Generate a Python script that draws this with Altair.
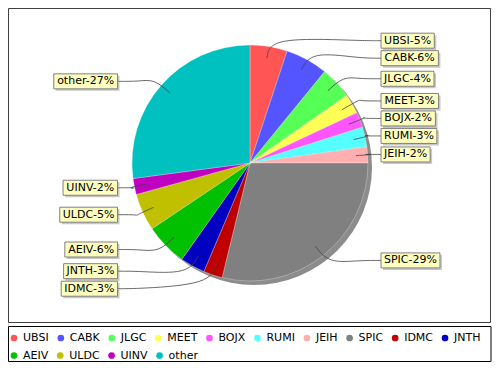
import math
import altair as alt
import pandas as pd

# ---------------- data (shares in %) ----------------
categories = ["UBSI", "CABK", "JLGC", "MEET", "BOJX", "RUMI", "JEIH",
              "SPIC", "IDMC", "JNTH", "AEIV", "ULDC", "UINV", "other"]
shares = [5.1, 5.8, 4.4, 2.7, 2.1, 2.7, 2.2, 28.8, 2.6, 3.4, 5.8, 5.1, 2.2, 27.1]
colors = ["#FF5555", "#5555FF", "#55FF55", "#FFFF55", "#FF55FF", "#55FFFF",
          "#FFAFAF", "#808080", "#C00000", "#0000C0", "#00C000", "#C0C000",
          "#C000C0", "#00C0C0"]

# ---------------- layout ----------------
W, H = 484, 354
CX, CY, R = 242, 155, 118
FONT = "DejaVu Sans"
FS = 11
RIGHT_X = 373      # left edge of right-hand label boxes
LEFT_X = 109.5     # right edge of left-hand label boxes
BOX_H = 15
MIN_GAP = 17.5
LABEL_R = 1.05
ANCHOR_R = 0.9
BORDER = (0.5, 482.5, 0.5, 314.5)
LEG_BOX = (0.5, 483, 318.5, 353.5)
LEG_ROW1 = 330
LEG_ROW_STEP = 17.5
LEG_PER_ROW = 10
LEG_GAP = 8.5

# DejaVu Sans advance widths (em)
ADV = {" ": .318, "%": .950, "-": .361, "A": .684, "B": .686, "C": .698,
       "D": .770, "E": .632, "G": .775, "H": .752, "I": .295, "J": .295,
       "K": .656, "L": .557, "M": .863, "N": .748, "O": .787, "P": .603,
       "R": .695, "S": .635, "T": .611, "U": .732, "V": .684, "X": .685,
       "Y": .611, "o": .612, "t": .392, "h": .634, "e": .615, "r": .411}


def text_w(s, fs=FS):
    return fs * sum(ADV.get(c, .636) for c in s)


total = float(sum(shares))
rows = []
cum = 0.0
for i, (c, v) in enumerate(zip(categories, shares)):
    mid = (cum + v / 2) / total * 2 * math.pi
    cum += v
    label = f"{c}-{round(v / total * 100)}%"
    side = "R" if math.sin(mid) >= 0 else "L"
    rows.append(dict(idx=i, cat=c, label=label, theta=mid, side=side,
                     ny=CY - LABEL_R * R * math.cos(mid)))

# resolve overlaps per side: push labels downwards
for side in ("R", "L"):
    grp = sorted([r for r in rows if r["side"] == side], key=lambda r: r["ny"])
    prev = -1e9
    for r in grp:
        r["ly"] = max(r["ny"], prev + MIN_GAP)
        prev = r["ly"]

labels, links = [], []
for r in rows:
    bw = text_w(r["label"]) + 6
    if r["side"] == "R":
        x0, x1 = RIGHT_X, RIGHT_X + bw
        tx, sgn = x0, 1
    else:
        x0, x1 = LEFT_X - bw, LEFT_X
        tx, sgn = x1, -1
    y = r["ly"]
    labels.append(dict(label=r["label"], x0=x0, x1=x1, xc=(x0 + x1) / 2,
                       y0=y - BOX_H / 2, y1=y + BOX_H / 2, yc=y,
                       sx0=x0 + 2, sx1=x1 + 2, sy0=y - BOX_H / 2 + 2,
                       sy1=y + BOX_H / 2 + 2))
    th = r["theta"]
    pts = [(CX + ANCHOR_R * R * math.sin(th), CY - ANCHOR_R * R * math.cos(th)),
           (CX + 1.08 * R * math.sin(th), CY - 1.08 * R * math.cos(th)),
           (tx - sgn * 22, y),
           (tx, y)]
    for k, (px, py) in enumerate(pts):
        links.append(dict(label=r["label"], k=k, px=px, py=py))

# legend entries (flow layout, computed from label widths)
leg = []
x = 6.0
for i, c in enumerate(categories):
    if i % LEG_PER_ROW == 0:
        x = 6.0
    row = i // LEG_PER_ROW
    leg.append(dict(cat=c, idx=i, cx=x, tx=x + 9, y=LEG_ROW1 + row * LEG_ROW_STEP))
    x = x + 9 + text_w(c) + LEG_GAP + 3.5

pie_df = pd.DataFrame({"cat": categories, "value": shares,
                       "idx": list(range(len(categories)))})
lab_df = pd.DataFrame(labels)
link_df = pd.DataFrame(links)
leg_df = pd.DataFrame(leg)
one = pd.DataFrame({"k": [0], "value": [total]})

xs = alt.Scale(domain=[0, W], nice=False, zero=False)
ys_ = alt.Scale(domain=[0, H], nice=False, zero=False, reverse=True)
color_scale = alt.Scale(domain=categories, range=colors)

pie_shadow = alt.Chart(one).mark_arc(radius=R, color="#8c8c8c").encode(
    theta=alt.Theta("value:Q"),
    x=alt.value(CX + 4), y=alt.value(CY + 4),
)

pie = alt.Chart(pie_df).mark_arc(radius=R, stroke="#ffffff", strokeWidth=0.4,
                                 strokeOpacity=0.7).encode(
    theta=alt.Theta("value:Q", stack=True),
    order=alt.Order("idx:Q"),
    color=alt.Color("cat:N", scale=color_scale, legend=None),
    x=alt.value(CX), y=alt.value(CY),
)

border = alt.Chart(one).mark_rect(fill="#ffffff", stroke="#404040", strokeWidth=1).encode(
    x=alt.value(BORDER[0]), x2=alt.value(BORDER[1]),
    y=alt.value(BORDER[2]), y2=alt.value(BORDER[3]))
legend_box = alt.Chart(one).mark_rect(fill="#ffffff", stroke="#000000", strokeWidth=1).encode(
    x=alt.value(LEG_BOX[0]), x2=alt.value(LEG_BOX[1]),
    y=alt.value(LEG_BOX[2]), y2=alt.value(LEG_BOX[3]))

lines = alt.Chart(link_df).mark_line(interpolate="basis", color="#444444", strokeWidth=0.8).encode(
    x=alt.X("px:Q", scale=xs, axis=None),
    y=alt.Y("py:Q", scale=ys_, axis=None),
    detail="label:N",
    order="k:Q",
)

shadow = alt.Chart(lab_df).mark_rect(fill="#999999", opacity=0.55).encode(
    x=alt.X("sx0:Q", scale=xs, axis=None), x2="sx1:Q",
    y=alt.Y("sy0:Q", scale=ys_, axis=None), y2="sy1:Q",
)
boxes = alt.Chart(lab_df).mark_rect(fill="#FFFFC0", stroke="#808080", strokeWidth=1).encode(
    x=alt.X("x0:Q", scale=xs, axis=None), x2="x1:Q",
    y=alt.Y("y0:Q", scale=ys_, axis=None), y2="y1:Q",
)
texts = alt.Chart(lab_df).mark_text(font=FONT, fontSize=FS, color="#000000",
                                    align="center", baseline="middle").encode(
    x=alt.X("xc:Q", scale=xs, axis=None),
    y=alt.Y("yc:Q", scale=ys_, axis=None),
    text="label:N",
)

leg_dots = alt.Chart(leg_df).mark_point(filled=True, shape="circle", size=45, opacity=1).encode(
    x=alt.X("cx:Q", scale=xs, axis=None),
    y=alt.Y("y:Q", scale=ys_, axis=None),
    color=alt.Color("cat:N", scale=color_scale, legend=None),
)
leg_text = alt.Chart(leg_df).mark_text(font=FONT, fontSize=FS, color="#000000",
                                       align="left", baseline="middle").encode(
    x=alt.X("tx:Q", scale=xs, axis=None),
    y=alt.Y("y:Q", scale=ys_, axis=None),
    text="cat:N",
)

chart = alt.layer(border, legend_box, pie_shadow, pie, lines, shadow, boxes, texts,
                  leg_dots, leg_text).properties(
    width=W, height=H, padding=0, autosize=alt.AutoSizeParams(type="none"),
).configure_view(stroke=None).configure(background="#ffffff")

chart.save("out.html", embed_options={"renderer": "svg", "actions": False})
